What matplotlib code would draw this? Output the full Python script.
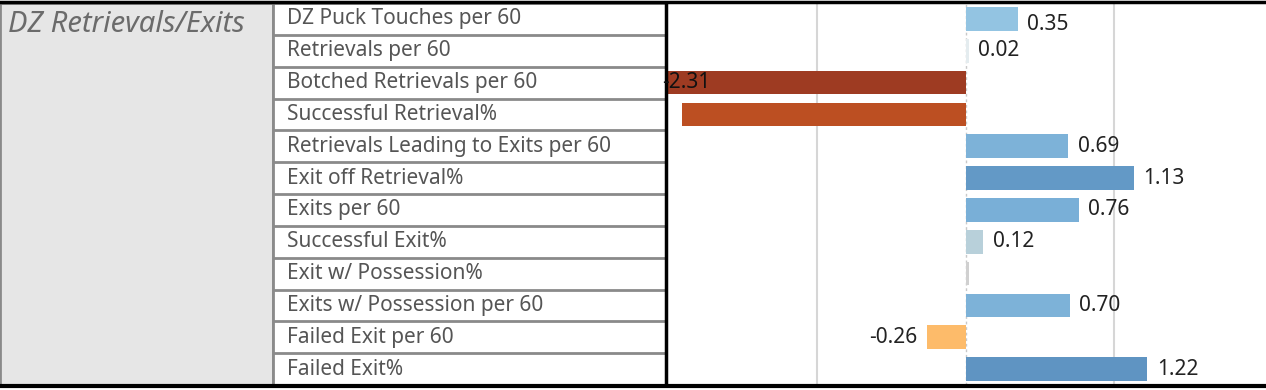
import numpy as np
import matplotlib.pyplot as plt

section = "DZ Retrievals/Exits"
metrics = [
    "DZ Puck Touches per 60",
    "Retrievals per 60",
    "Botched Retrievals per 60",
    "Successful Retrieval%",
    "Retrievals Leading to Exits per 60",
    "Exit off Retrieval%",
    "Exits per 60",
    "Successful Exit%",
    "Exit w/ Possession%",
    "Exits w/ Possession per 60",
    "Failed Exit per 60",
    "Failed Exit%",
]
values = [0.35, 0.02, -2.31, -1.91, 0.69, 1.13, 0.76, 0.12, 0.02, 0.70, -0.26, 1.22]
show_label = [True, True, True, False, True, True, True, True, False, True, True, True]
colors = ["#93c4e2", "#e4ecef", "#9e3b22", "#bc4f22", "#7db2d8", "#6399c6",
          "#79afd7", "#b8d0da", "#d0d0d0", "#7db2d8", "#fdbb6a", "#5f94c2"]

W, H = 1266, 390
fig = plt.figure(figsize=(W / 100, H / 100), dpi=100)
plt.rcParams['font.family'] = ['Noto Sans', 'DejaVu Sans']

top, bot = 3, 385
n = len(metrics)
y = np.arange(n)

def fax(x0, x1):
    return fig.add_axes([x0 / W, (H - bot) / H, (x1 - x0) / W, (bot - top) / H])

# grey header panel
axh = fax(0, 273)
axh.set_facecolor("#e6e6e6")
axh.set_xticks([]); axh.set_yticks([])
for s in axh.spines.values():
    s.set_color("#8a8a8a"); s.set_linewidth(2)
axh.text(0.03, 0.982, section, transform=axh.transAxes, ha="left", va="top",
         fontsize=21, style="italic", color="#6b6b6b")

# metric label column
axl = fax(273, 666)
axl.set_xlim(0, 1)
axl.set_ylim(n - 0.5, -0.5)
axl.set_xticks([]); axl.set_yticks([])
for s in axl.spines.values():
    s.set_color("#8a8a8a"); s.set_linewidth(2)
for i in range(n - 1):
    axl.axhline(i + 0.5, color="#8a8a8a", lw=2)
for i, m in enumerate(metrics):
    axl.text(0.035, i, m, ha="left", va="center", fontsize=15, color="#555555")

# bar chart
ax = fax(666, W)
ax.barh(y, values, height=0.74, color=colors)
ax.set_xlim(-2.015, 2.02)
ax.set_ylim(n - 0.5, -0.5)
ax.set_xticks([]); ax.set_yticks([])
for xv in (-1, 1):
    ax.axvline(xv, color="#d6d6d6", lw=1.5, zorder=0)
ax.axvline(0, color="#c8c8c8", lw=1, ls=(0, (2, 2)), zorder=0)
for s in ax.spines.values():
    s.set_visible(False)
ax.spines["left"].set_visible(True)
ax.spines["left"].set_color("black")
ax.spines["left"].set_linewidth(2.5)

xmin = ax.get_xlim()[0]
for i, v in enumerate(values):
    if not show_label[i]:
        continue
    txt = f"{v:.2f}"
    dy = -4 if i == 0 else 0
    if v >= 0:
        ax.annotate(txt, (v, i), xytext=(7, dy), textcoords="offset points",
                    ha="left", va="center", fontsize=15, color="#222222")
    elif v < xmin:
        ax.annotate(txt, (xmin, i), xytext=(-3, dy), textcoords="offset points",
                    ha="left", va="center", fontsize=15, color="#111111")
    else:
        ax.annotate(txt, (v, i), xytext=(-7, dy), textcoords="offset points",
                    ha="right", va="center", fontsize=15, color="#222222")

# outer horizontal rules
fig.add_artist(plt.Line2D([0, 1], [(H - 2) / H] * 2, color="black", lw=2.5))
fig.add_artist(plt.Line2D([0, 1], [(H - 386) / H] * 2, color="black", lw=3))

fig.savefig("out.png", dpi=100)
